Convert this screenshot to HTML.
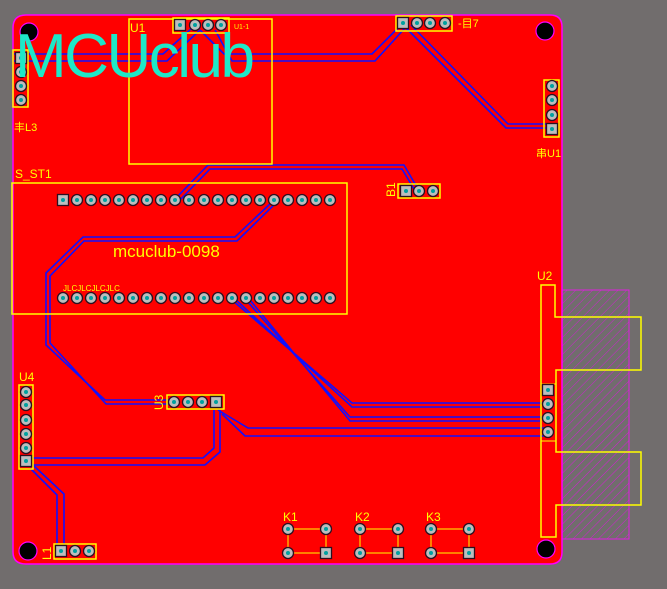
<!DOCTYPE html>
<html><head><meta charset="utf-8"><style>
html,body{margin:0;padding:0;background:#716d6d;}
svg{display:block}
text{font-family:"Liberation Sans","Noto Sans CJK SC",sans-serif;}
</style></head><body>
<svg width="667" height="589" viewBox="0 0 667 589" xmlns="http://www.w3.org/2000/svg" xmlns:xlink="http://www.w3.org/1999/xlink">
<defs>
<pattern id="h" width="6" height="6" patternUnits="userSpaceOnUse" patternTransform="rotate(45)">
<line x1="0" y1="0" x2="0" y2="6" stroke="#d020d0" stroke-width="1"/>
</pattern>
<g id="p"><circle r="5.5" fill="#bdbdbd" stroke="#2a1020" stroke-width="1.3"/><circle r="2" fill="#00a0a0"/></g>
<g id="s"><rect x="-5.5" y="-5.5" width="11" height="11" fill="#bdbdbd" stroke="#2a1020" stroke-width="1.3"/><circle r="2" fill="#00a0a0"/></g>
</defs>
<rect width="667" height="589" fill="#716d6d"/>
<rect x="562" y="290" width="67" height="249" fill="url(#h)" stroke="#e020e0" stroke-width="1"/>
<path d="M26,15 H550 Q562,15 562,27 V552 Q562,564 550,564 H26 Q13,564 13,552 V28 Q13,15 26,15 Z" fill="#ff0000" stroke="#ff00ff" stroke-width="1.5"/>
<g fill="#000" stroke="#ff00ff" stroke-width="1.2">
<circle cx="29" cy="32" r="9"/><circle cx="545" cy="31" r="9"/><circle cx="28" cy="551" r="9"/><circle cx="546" cy="549" r="9"/>
</g>
<g fill="none" stroke="#1010ff" stroke-width="1.6">
<polyline points="14,54 163,54 192,28"/>
<polyline points="14,61 167,61 200,30"/>
<polyline points="200,30 224,54 372,54 400,26"/>
<polyline points="215,30 232,61 375,61 405,28"/>
<polyline points="406,28 506,128 552,128"/>
<polyline points="411,25 508,124 548,124"/>
<polyline points="176,198 208,165 404,165 418,189"/>
<polyline points="179,201 210,169 402,169 414,189"/>
<polyline points="272,202 235,237 83,237 46,273 46,345 105,400 170,400"/>
<polyline points="276,203 237,241 84,241 50,276 50,343 106,404 170,404"/>
<polyline points="232,300 352,403 548,403"/>
<polyline points="236,300 352,407 540,407"/>
<polyline points="246,300 350,417 548,417"/>
<polyline points="250,300 350,421 540,421"/>
<polyline points="218,410 248,428 548,428"/>
<polyline points="222,414 245,436 548,436"/>
<polyline points="214,410 214,448 203,458 30,458"/>
<polyline points="220,410 220,452 205,465 33,465"/>
<polyline points="30,468 57,495 57,548"/>
<polyline points="34,466 64,494 64,548"/>
</g>
<g fill="none" stroke="#ffff00" stroke-width="1.5">
<rect x="129" y="19" width="143" height="145"/>
<rect x="173" y="18" width="56" height="15"/>
<rect x="13" y="50" width="15" height="57"/>
<rect x="12" y="183" width="335" height="131"/>
<rect x="396" y="16" width="56" height="15"/>
<rect x="544" y="80" width="15" height="57"/>
<rect x="398" y="184" width="42" height="14"/>
<rect x="167" y="395" width="57" height="14"/>
<rect x="19" y="385" width="14" height="84"/>
<rect x="54" y="544" width="42" height="15"/>
<rect x="288" y="529" width="38" height="24" stroke-width="1"/>
<rect x="360" y="529" width="38" height="24" stroke-width="1"/>
<rect x="431" y="529" width="38" height="24" stroke-width="1"/>
<path d="M541,285 H555 V317 H641 V370 H556 V452 H641 V505 H556 V537 H541 Z"/>
<rect x="541" y="384" width="15" height="57" stroke-width="1"/>
</g>
<g>
<use xlink:href="#s" x="180" y="25"/><use xlink:href="#p" x="195" y="25"/><use xlink:href="#p" x="208" y="25"/><use xlink:href="#p" x="221" y="25"/>
<use xlink:href="#s" x="21" y="58"/><use xlink:href="#p" x="21" y="72"/><use xlink:href="#p" x="21" y="86"/><use xlink:href="#p" x="21" y="100"/>
<use xlink:href="#s" x="403" y="23"/><use xlink:href="#p" x="417" y="23"/><use xlink:href="#p" x="430" y="23"/><use xlink:href="#p" x="445" y="23"/>
<use xlink:href="#p" x="552" y="86"/><use xlink:href="#p" x="552" y="100"/><use xlink:href="#p" x="552" y="115"/><use xlink:href="#s" x="552" y="129"/>
<use xlink:href="#s" x="406" y="191"/><use xlink:href="#p" x="419" y="191"/><use xlink:href="#p" x="433" y="191"/>
<use xlink:href="#p" x="174" y="402"/><use xlink:href="#p" x="188" y="402"/><use xlink:href="#p" x="202" y="402"/><use xlink:href="#s" x="216" y="402"/>
<use xlink:href="#p" x="26" y="392"/><use xlink:href="#p" x="26" y="405"/><use xlink:href="#p" x="26" y="420"/><use xlink:href="#p" x="26" y="434"/><use xlink:href="#p" x="26" y="448"/><use xlink:href="#s" x="26" y="461"/>
<use xlink:href="#s" x="61" y="551"/><use xlink:href="#p" x="75" y="551"/><use xlink:href="#p" x="89" y="551"/>
<use xlink:href="#p" x="288" y="529"/><use xlink:href="#p" x="326" y="529"/><use xlink:href="#p" x="288" y="553"/><use xlink:href="#s" x="326" y="553"/>
<use xlink:href="#p" x="360" y="529"/><use xlink:href="#p" x="398" y="529"/><use xlink:href="#p" x="360" y="553"/><use xlink:href="#s" x="398" y="553"/>
<use xlink:href="#p" x="431" y="529"/><use xlink:href="#p" x="469" y="529"/><use xlink:href="#p" x="431" y="553"/><use xlink:href="#s" x="469" y="553"/>
<use xlink:href="#s" x="548" y="390"/><use xlink:href="#p" x="548" y="404"/><use xlink:href="#p" x="548" y="418"/><use xlink:href="#p" x="548" y="432"/>
<use xlink:href="#s" x="63" y="200"/><use xlink:href="#p" x="77" y="200"/><use xlink:href="#p" x="91" y="200"/><use xlink:href="#p" x="105" y="200"/><use xlink:href="#p" x="119" y="200"/><use xlink:href="#p" x="133" y="200"/><use xlink:href="#p" x="147" y="200"/><use xlink:href="#p" x="161" y="200"/><use xlink:href="#p" x="175" y="200"/><use xlink:href="#p" x="189" y="200"/><use xlink:href="#p" x="204" y="200"/><use xlink:href="#p" x="218" y="200"/><use xlink:href="#p" x="232" y="200"/><use xlink:href="#p" x="246" y="200"/><use xlink:href="#p" x="260" y="200"/><use xlink:href="#p" x="274" y="200"/><use xlink:href="#p" x="288" y="200"/><use xlink:href="#p" x="302" y="200"/><use xlink:href="#p" x="316" y="200"/><use xlink:href="#p" x="330" y="200"/>
<use xlink:href="#p" x="63" y="298"/><use xlink:href="#p" x="77" y="298"/><use xlink:href="#p" x="91" y="298"/><use xlink:href="#p" x="105" y="298"/><use xlink:href="#p" x="119" y="298"/><use xlink:href="#p" x="133" y="298"/><use xlink:href="#p" x="147" y="298"/><use xlink:href="#p" x="161" y="298"/><use xlink:href="#p" x="175" y="298"/><use xlink:href="#p" x="189" y="298"/><use xlink:href="#p" x="204" y="298"/><use xlink:href="#p" x="218" y="298"/><use xlink:href="#p" x="232" y="298"/><use xlink:href="#p" x="246" y="298"/><use xlink:href="#p" x="260" y="298"/><use xlink:href="#p" x="274" y="298"/><use xlink:href="#p" x="288" y="298"/><use xlink:href="#p" x="302" y="298"/><use xlink:href="#p" x="316" y="298"/><use xlink:href="#p" x="330" y="298"/>
</g>
<g fill="#ffff00" font-size="12">
<text x="130" y="32">U1</text>
<text x="15" y="178">S_ST1</text>
<text x="19" y="381">U4</text>
<text x="537" y="280">U2</text>
<text x="283" y="521">K1</text>
<text x="355" y="521">K2</text>
<text x="426" y="521">K3</text>
<text x="14" y="131" font-size="11">丰L3</text>
<text x="536" y="157" font-size="11">串U1</text>
<text x="458" y="27" font-size="11">-目7</text>
<text x="234" y="29" font-size="7">U1-1</text>
<text x="113" y="257" font-size="17" font-family="Liberation Mono, monospace">mcuclub-0098</text>
<text x="63" y="291" font-size="8">JLCJLCJLCJLC</text>
<text transform="translate(395,197) rotate(-90)" font-size="12">B1</text>
<text transform="translate(163,410) rotate(-90)" font-size="12">U3</text>
<text transform="translate(51,560) rotate(-90)" font-size="12">L1</text>
</g>
<text x="15" y="77" font-size="62" fill="#1ee8c8" textLength="240" lengthAdjust="spacing">MCUclub</text>
</svg>
</body></html>
